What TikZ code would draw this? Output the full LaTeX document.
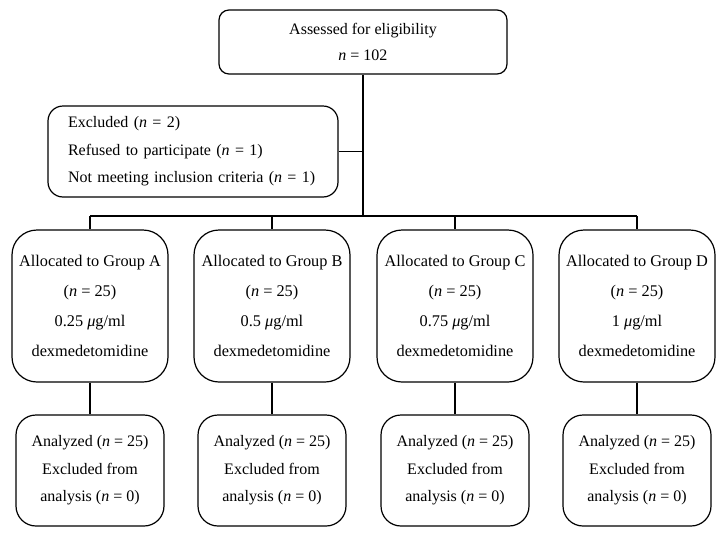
\documentclass[tikz,border=0pt]{standalone}
\usepackage{fontspec}
\setmainfont{Liberation Serif}
\begin{document}
\begin{tikzpicture}[x=1pt,y=-1pt,line width=1.2pt,
  topbox/.style={draw,rounded corners=10pt,minimum width=288pt,minimum height=64pt,inner sep=0pt,align=center,font=\fontsize{16}{26}\selectfont},
  exbox/.style={draw,rounded corners=15pt,minimum width=290pt,minimum height=91pt,inner xsep=20pt,inner ysep=0pt,align=left,text width=250pt,font=\fontsize{16}{27.5}\selectfont},
  grpbox/.style={draw,rounded corners=25pt,minimum width=156pt,minimum height=152pt,inner sep=0pt,align=center,font=\fontsize{16.3}{30}\selectfont},
  anbox/.style={draw,rounded corners=20pt,minimum width=148pt,minimum height=111pt,inner sep=0pt,align=center,font=\fontsize{16}{27.5}\selectfont}]
\useasboundingbox (0,0) rectangle (726,536);
\node[topbox] (assess) at (363,42) {Assessed for eligibility\\\textit{n} = 102};
\node[exbox] (excl) at (193,151.5) {Excluded (\textit{n} = 2)\\Refused to participate (\textit{n} = 1)\\Not meeting inclusion criteria (\textit{n} = 1)};
\coordinate (bus) at (363,216);
\node[grpbox] (gA) at (90,306) {Allocated to Group A\\(\textit{n} = 25)\\0.25 \textit{μ}g/ml\\dexmedetomidine};
\node[grpbox] (gB) at (272,306) {Allocated to Group B\\(\textit{n} = 25)\\0.5 \textit{μ}g/ml\\dexmedetomidine};
\node[grpbox] (gC) at (455,306) {Allocated to Group C\\(\textit{n} = 25)\\0.75 \textit{μ}g/ml\\dexmedetomidine};
\node[grpbox] (gD) at (637,306) {Allocated to Group D\\(\textit{n} = 25)\\1 \textit{μ}g/ml\\dexmedetomidine};
\foreach \g/\x in {A/90,B/272,C/455,D/637}{
  \node[anbox] (a\g) at (\x,470.5) {Analyzed (\textit{n} = 25)\\Excluded from\\analysis (\textit{n} = 0)};
}
\draw (assess.south) -- (bus);
\draw (excl.east) -- (excl.east -| bus);
\draw (gA.north |- bus) -- (gD.north |- bus);
\foreach \g in {A,B,C,D}{
  \draw (g\g.north |- bus) -- (g\g.north);
  \draw (g\g.south) -- (a\g.north);
}
\end{tikzpicture}
\end{document}
